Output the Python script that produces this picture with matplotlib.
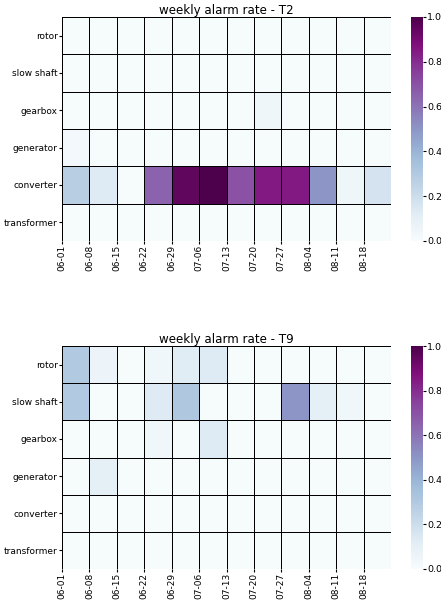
import matplotlib
matplotlib.use("Agg")
import matplotlib.pyplot as plt
import numpy as np

weeks = ['06-01', '06-08', '06-15', '06-22', '06-29', '07-06',
         '07-13', '07-20', '07-27', '08-04', '08-11', '08-18']
parts = ['rotor', 'slow shaft', 'gearbox', 'generator', 'converter', 'transformer']

# weekly alarm rates, one row per part
t2_rotor = [0.01, 0.01, 0.01, 0.01, 0.01, 0.01, 0.01, 0.01, 0.01, 0.01, 0.01, 0.01]
t2_slow = [0.01, 0.01, 0.01, 0.01, 0.01, 0.01, 0.01, 0.01, 0.01, 0.01, 0.01, 0.01]
t2_gearbox = [0.01, 0.01, 0.01, 0.01, 0.01, 0.01, 0.01, 0.05, 0.01, 0.01, 0.01, 0.01]
t2_generator = [0.03, 0.01, 0.01, 0.01, 0.01, 0.01, 0.01, 0.01, 0.01, 0.01, 0.01, 0.01]
t2_converter = [0.28, 0.13, 0.01, 0.65, 0.95, 1.0, 0.7, 0.85, 0.85, 0.5, 0.05, 0.17]
t2_transformer = [0.01, 0.01, 0.01, 0.01, 0.01, 0.01, 0.01, 0.01, 0.01, 0.01, 0.01, 0.01]

t9_rotor = [0.3, 0.06, 0.01, 0.04, 0.12, 0.13, 0.01, 0.01, 0.01, 0.01, 0.01, 0.01]
t9_slow = [0.3, 0.01, 0.01, 0.13, 0.31, 0.01, 0.01, 0.01, 0.5, 0.1, 0.04, 0.01]
t9_gearbox = [0.01, 0.01, 0.01, 0.04, 0.01, 0.13, 0.01, 0.01, 0.01, 0.01, 0.01, 0.01]
t9_generator = [0.01, 0.1, 0.01, 0.01, 0.01, 0.01, 0.01, 0.01, 0.01, 0.01, 0.01, 0.01]
t9_converter = [0.01, 0.01, 0.01, 0.01, 0.01, 0.01, 0.01, 0.01, 0.01, 0.01, 0.01, 0.01]
t9_transformer = [0.01, 0.01, 0.01, 0.01, 0.01, 0.01, 0.01, 0.01, 0.01, 0.01, 0.01, 0.01]

t2 = np.array([t2_rotor, t2_slow, t2_gearbox, t2_generator, t2_converter, t2_transformer])
t9 = np.array([t9_rotor, t9_slow, t9_gearbox, t9_generator, t9_converter, t9_transformer])

W, H = 441, 601
fig = plt.figure(figsize=(W / 100, H / 100), dpi=100)


def draw(data, title, top, bottom):
    ax = fig.add_axes([62 / W, 1 - bottom / H, (391 - 62) / W, (bottom - top) / H])
    cax = fig.add_axes([411 / W, 1 - bottom / H, 12 / W, (bottom - top) / H])
    mesh = ax.pcolormesh(data, cmap='BuPu', vmin=0, vmax=1,
                         edgecolors='black', linewidth=0.7)
    ax.set_xlim(0, data.shape[1])
    ax.set_ylim(data.shape[0], 0)
    ax.set_xticks(range(len(weeks)))
    ax.set_xticklabels(weeks, rotation=90, fontsize=6.5)
    ax.set_yticks(np.arange(len(parts)) + 0.5)
    ax.set_yticklabels(parts, fontsize=6.5)
    ax.tick_params(length=2, pad=1)
    for s in ax.spines.values():
        s.set_visible(False)
    ax.set_title(title, fontsize=8.6, pad=1)
    cb = fig.colorbar(mesh, cax=cax)
    cb.outline.set_visible(False)
    cb.set_ticks([0, 0.2, 0.4, 0.6, 0.8, 1.0])
    cb.ax.tick_params(labelsize=6.8, length=2, pad=1)


draw(t2, 'weekly alarm rate - T2', 17, 241)
draw(t9, 'weekly alarm rate - T9', 346, 569)

fig.savefig('out.png', dpi=100)
